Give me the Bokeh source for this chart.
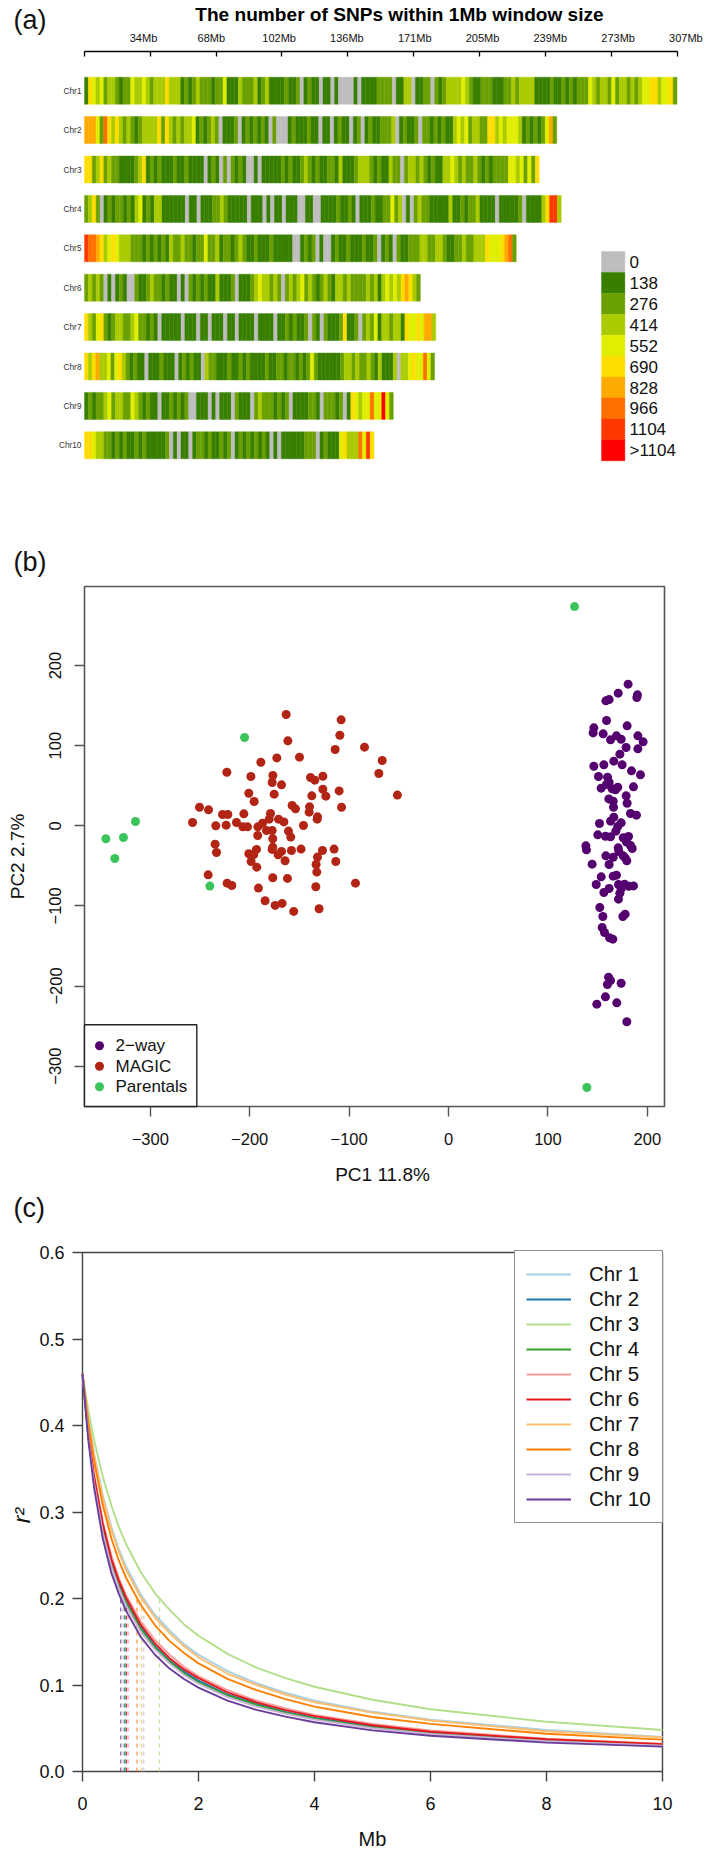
from bokeh.plotting import figure
from bokeh.layouts import column
from bokeh.models import Label, Legend, LegendItem, FixedTicker, Range1d, LinearAxis
from bokeh.embed import file_html
from bokeh.resources import INLINE

FONT = "Liberation Sans"

# ---------- panel (a) data: SNP density class per 2 Mb cell
chrom_names = ["Chr1", "Chr2", "Chr3", "Chr4", "Chr5", "Chr6", "Chr7", "Chr8", "Chr9", "Chr10"]
chrom_mb = [307, 244.7, 235.6, 247, 223.7, 174, 182, 181.4, 160, 150]
chr1_cells = ("1543423321224334323335333121232221224111322231231111211201211011010000101111222"
              "2011330112202123333432112221112232333311112112121222432332423323234455" "34452")
chr2_cells = ("6664275353232123333525323233412123201112012121210200012111211011012110120"
              "121122230121120221212113434233225534344431212124" "62")
chr3_cells = ("5523523221111235121211121121111012102021210010111112121123212112213111233321211"
              "32202332321211334323223212122224434242" "5")
chr4_cells = ("235201212212134121331111110110111223211111011101011011100110011112112101112112"
              "242301023221111131121223111101111120111135883")
chr5_cells = ("8776534543332221212121322322122422312212321121112111110012120100121121112112012"
              "102112223322332112232233354445672")
chr6_cells = ("232320101210021123221211010212121131112011123433"
              "232023234232123213323222232313434356532")
chr7_cells = ("532452123322342212101111101110110111011011110111"
              "1011212112021021112511202324133233154454663")
chr8_cells = ("535633424532121101112111012121103221112112121111"
              "2112212212124211111123323223213111303345447" "42")
chr9_cells = ("121223423322432121101121212001110101110211102322"
              "21212011112210222120154344744942")
chr10_cells = ("554332212121121211111201011012212112120121212121"
               "010111111222012111453337485")
chrom_cells = [chr1_cells, chr2_cells, chr3_cells, chr4_cells, chr5_cells,
               chr6_cells, chr7_cells, chr8_cells, chr9_cells, chr10_cells]
class_labels = ["0", "138", "276", "414", "552", "690", "828", "966", "1104", ">1104"]
class_colors = ["#BEBEBE", "#387F00", "#6AA000", "#AACB00", "#E1EE00",
                "#FFDD00", "#FFAA00", "#FF7000", "#FF3800", "#FF0000"]
ruler_ticks = [0, 34.1, 68.2, 102.3, 136.4, 170.5, 204.7, 238.8, 272.9, 307]
ruler_labels = ["34Mb", "68Mb", "102Mb", "136Mb", "171Mb", "205Mb", "239Mb", "273Mb", "307Mb"]

# ---------- panel (b) data
way2_x = [180.7,170.7,190.1,189.5,161.6,158.3,159,179.7,146.2,145.5,155.6,190.5,163,169,173.7,195.8,178.7,190.5,172.4,166.3,
          146.2,156.3,174.7,184.1,193.1,150.9,160,161.6,186.1,153.6,159,164.6,170.3,168,178.7,161.3,165.7,179.7,166,183.1,
          189.1,166.3,163,151.9,173.7,170.3,168.3,150.2,157.9,163,175.7,181.1,179.1,183.1,184.8,138.2,138.8,170.7,171.4,158.3,
          165.7,175.7,177.7,179.4,161.6,144.5,153.6,165.7,169,148.6,171,177.1,173.7,181.4,186.1,161.6,156.3,172.4,171,152.2,
          155.3,177.7,175.4,154.6,156.9,162,165.3,161,163,159.9,173.7,157.9,149.2,169.3,179.4]
way2_y = [176.8,165.6,163.5,160.1,157.6,156,131.4,124.8,122.3,116,114.8,112.3,107.3,112.3,108.1,104.8,97.7,96.1,89.4,80.7,
          74.4,76.1,76.1,68.6,63.6,61.5,60.7,54.4,48.6,47,51.5,46.2,48.2,44.9,37.4,33.6,30.7,28.2,23.2,15.3,
          13.3,10.8,5.8,2.9,3.7,-0.9,-6.7,-11.3,-13,-13.8,-15,-13.4,-20.4,-24.6,-28.3,-25,-30,-27.5,-32.1,-37.5,
          -39.2,-37.5,-40,-43.7,-48.3,-47.9,-63.7,-62.9,-61.6,-73.3,-73.3,-72.9,-78.7,-75.4,-75,-78.3,-83.3,-84.1,-91.6,-102,
          -113.2,-110.3,-113.2,-127,-133.2,-139.9,-141.5,-189,-193.1,-198.1,-196.5,-213.5,-222.7,-221,-244.7]
magic_x = [-163.3,-108,-109.3,-161.6,-84.5,-114,-172.7,-149.9,-66.7,-188.8,-223,-70.1,-198.8,-176.7,-138.8,-126.4,-134.5,-177.4,-168,-126.4,
           -110,-200.9,-175.4,-137.5,-123.4,-195.5,-157.3,-153.9,-139.8,-107.6,-250.5,-241.4,-140.2,-227.3,-222,-205.9,-179.1,-131.8,-132.1,-180.4,
           -171,-165.6,-257.5,-213.3,-234.1,-223.7,-145.9,-187.1,-206.9,-202.2,-191.8,-51.4,-161,-158.7,-177.4,-183.1,-176.8,-191.9,-234.8,-233.4,
           -193.2,-176.8,-177.4,-168,-171.4,-158,-148.3,-126.8,-115.1,-131.8,-133.2,-113.4,-200.9,-195.9,-198.6,-192.9,-164.4,-132.5,-241.8,-176.8,
           -162,-222.7,-218,-191.2,-133.5,-93.6,-184.5,-174.4,-167.4,-130.2,-155.7]
magic_y = [138.9,132.3,113.1,106.1,98.2,95.2,84.8,85.7,81.5,79.4,66.9,65.3,61.5,62.8,60.3,61.9,57,54,51.1,45.7,
           43.6,40.7,39.5,37.4,37,30.3,25.3,21.2,23.7,23.2,23.2,19.9,17,14.1,14.1,14.9,15.3,11.2,8.3,8.3,
           8.3,4.9,4.1,4.1,0,0.8,0.4,3.3,-1.3,-1.3,-1.3,38.3,-6.6,-14.1,-5.8,-5.8,-16.2,-12.1,-22.9,-33.3,
           -29.5,-26.6,-29.5,-32,-36.2,-30.8,-29.1,-30.8,-29.1,-39.1,-48.3,-44.5,-34.9,-35.8,-44.5,-51.6,-43.7,-57.8,-61.2,-64.9,
           -65.7,-71.6,-74.5,-77.8,-76.1,-71.6,-93.6,-99.4,-96.9,-103.6,-106.9]
parent_x = [-314.9, -344.7, -327, -335.7, -240.1, -205.2, 126.8, 139.2]
parent_y = [5.4, -16.2, -14.6, -40.8, -75.3, 110.2, 273.7, -326.7]
pc_xticks = [-300, -200, -100, 0, 100, 200]
pc_yticks = [-300, -200, -100, 0, 100, 200]
group_names = ["2\u2212way", "MAGIC", "Parentals"]
group_colors = ["#54006F", "#B22414", "#3CC45C"]

# ---------- panel (c) data: r2
mb = [0, 0.1, 0.2, 0.35, 0.5, 0.625, 0.75, 1, 1.25, 1.5, 1.75, 2, 2.5, 3, 3.5, 4, 5, 6, 8, 10]
r2_chr1 = [.46,.409,.367,.319,.282,.257,.237,.205,.181,.163,.147,.135,.116,.102,.091,.082,.069,.060,.048,.040]
r2_chr2 = [.46,.389,.338,.282,.241,.217,.197,.167,.145,.128,.1155,.105,.089,.078,.069,.062,.052,.045,.0363,.0308]
r2_chr3 = [.46,.418,.383,.341,.307,.283,.263,.231,.206,.187,.170,.157,.136,.120,.108,.098,.083,.072,.0575,.048]
r2_chr4 = [.46,.388,.336,.279,.239,.2145,.195,.165,.143,.127,.1135,.103,.088,.077,.068,.061,.051,.044,.0357,.0303]
r2_chr5 = [.46,.393,.344,.289,.249,.224,.204,.174,.152,.135,.121,.110,.094,.082,.073,.0655,.055,.0475,.038,.032]
r2_chr6 = [.46,.391,.341,.286,.245,.221,.201,.170,.148,.131,.118,.108,.0915,.080,.071,.064,.0535,.046,.0373,.0316]
r2_chr7 = [.46,.407,.365,.316,.279,.254,.233,.202,.178,.160,.1447,.132,.113,.100,.089,.080,.068,.059,.0465,.0395]
r2_chr8 = [.46,.403,.359,.308,.269,.244,.224,.193,.169,.151,.137,.125,.107,.094,.0836,.075,.063,.055,.0436,.0369]
r2_chr9 = [.46,.387,.333,.276,.2365,.212,.192,.162,.141,.125,.1117,.1015,.086,.075,.0667,.060,.050,.0434,.035,.0297]
r2_chr10 = [.46,.383,.328,.269,.229,.2056,.186,.156,.135,.119,.107,.097,.082,.0713,.0634,.057,.0476,.0414,.0334,.0287]
r2_series = [r2_chr1, r2_chr2, r2_chr3, r2_chr4, r2_chr5, r2_chr6, r2_chr7, r2_chr8, r2_chr9, r2_chr10]
half_decay_mb = [1.057, 0.735, 1.33, 0.72, 0.787, 0.76, 1.02, 0.94, 0.70, 0.66]
half_decay_r2 = 0.2
ld_names = ["Chr 1", "Chr 2", "Chr 3", "Chr 4", "Chr 5", "Chr 6", "Chr 7", "Chr 8", "Chr 9", "Chr 10"]
ld_colors = ["#A6CEE3", "#1F78B4", "#B2DF8A", "#33A02C", "#FB9A99",
             "#E31A1C", "#FDBF6F", "#FF7F00", "#CAB2D6", "#6A3D9A"]
ld_xticks = [0, 2, 4, 6, 8, 10]
ld_yticks = [0, 0.1, 0.2, 0.3, 0.4, 0.5, 0.6]

W = 709
TXT = "#111111"


def panel(h, xr, yr):
    p = figure(width=W, height=h, output_backend="svg", toolbar_location=None,
               x_range=Range1d(*xr), y_range=Range1d(*yr), x_axis_location=None, y_axis_location=None,
               min_border=0, min_border_left=0, min_border_right=0, min_border_top=0, min_border_bottom=0)
    p.grid.visible = False
    p.background_fill_color = "white"
    p.border_fill_color = "white"
    p.outline_line_color = None
    return p


def axis(p, side, loc, ticks, bounds, size, color="#444444", standoff=10, overrides=None):
    ax = LinearAxis(fixed_location=loc, bounds=bounds, ticker=FixedTicker(ticks=ticks))
    ax.major_label_text_font = FONT
    ax.major_label_text_font_size = size
    ax.major_label_text_color = TXT
    ax.axis_line_color = None
    ax.major_tick_line_color = color
    ax.major_tick_line_width = 1.4
    ax.major_tick_in = 0
    ax.major_tick_out = 10
    ax.minor_tick_line_color = None
    ax.major_label_standoff = standoff
    if overrides:
        ax.major_label_overrides = overrides
    p.add_layout(ax, side)
    return ax


def text(p, x, y, s, size, align="center", angle=0, style="normal", color=TXT):
    p.add_layout(Label(x=x, y=y, text=s, text_align=align, text_baseline="middle", angle=angle,
                       text_font=FONT, text_font_size=size, text_font_style=style, text_color=color))


# ---------- panel (a): page y 0..480
A_H = 480
A_LEFT, A_RIGHT = 84, 676.5
K = (A_RIGHT - A_LEFT) / 307
ROW0, PITCH, ROW_H = 90.2, 39.4, 27 / 39.4
ax_ = lambda px: (px - A_LEFT) / K
ay_ = lambda py: (py - ROW0) / PITCH

a = panel(A_H, (ax_(0), ax_(W)), (ay_(A_H), ay_(0)))
for i, (cells, length) in enumerate(zip(chrom_cells, chrom_mb)):
    w = length / len(cells)
    cols = [class_colors[int(c)] for c in cells]
    a.quad(left=[j * w for j in range(len(cells))], right=[(j + 1) * w for j in range(len(cells))],
           top=[i - ROW_H / 2] * len(cells), bottom=[i + ROW_H / 2] * len(cells),
           fill_color=cols, line_color=cols, line_width=0.4)

xa = axis(a, "above", ay_(50.7), ruler_ticks, (0, 307), "1px", "black", overrides={t: "" for t in ruler_ticks})
xa.axis_line_color = "black"
xa.axis_line_width = 1.3
xa.major_tick_line_width = 1.3
xa.major_tick_in = 5
xa.major_tick_out = 0
ya = axis(a, "left", 0, list(range(10)), (0, 9), "8.3px", None, standoff=3,
          overrides={i: n for i, n in enumerate(chrom_names)})
ya.major_label_text_color = "#333333"
ya.major_tick_out = 0

for i, t in enumerate(ruler_labels):
    text(a, ax_(143 + 67.8 * i), ay_(37), t, "11px")
text(a, ax_(399), ay_(14), "The number of SNPs within 1Mb window size", "19.1px", style="bold", color="black")
text(a, ax_(13), ay_(19), "(a)", "27px", align="left")
LEG_T, LEG_P = 251, 20.93
a.quad(left=[ax_(601)] * 10, right=[ax_(624.4)] * 10,
       top=[ay_(LEG_T + i * LEG_P) for i in range(10)], bottom=[ay_(LEG_T + (i + 1) * LEG_P) for i in range(10)],
       fill_color=class_colors, line_color=class_colors, line_width=0.4)
for i, t in enumerate(class_labels):
    text(a, ax_(629), ay_(LEG_T + (i + 0.5) * LEG_P), t, "17px", align="left")

# ---------- panel (b): page y 480..1188
B_Y0, B_H = 480, 708
bx = lambda px: (px - 448) / 0.994
by = lambda py: (825.3 - py) / 0.801
b = panel(B_H, (bx(0), bx(W)), (by(B_Y0 + B_H), by(B_Y0)))
b.quad(left=[bx(84)], right=[bx(664)], top=[by(586)], bottom=[by(1106)],
       fill_color=None, line_color="#555555", line_width=1.6)
b.scatter(way2_x, way2_y, size=9, color=group_colors[0], line_color=None)
b.scatter(magic_x, magic_y, size=9, color=group_colors[1], line_color=None)
b.scatter(parent_x, parent_y, size=9, color=group_colors[2], line_color=None)
fmt = lambda v: str(v).replace("-", "\u2212")
axis(b, "below", by(1106), pc_xticks, (-300, 200), "16.5px", "#555555", standoff=16,
     overrides={t: fmt(t) for t in pc_xticks})
yb = axis(b, "left", bx(84), pc_yticks, (-300, 200), "16.5px", "#555555", standoff=13,
          overrides={t: fmt(t) for t in pc_yticks})
yb.major_label_orientation = "vertical"
# legend box
b.quad(left=[bx(84)], right=[bx(196.3)], top=[by(1024.3)], bottom=[by(1106)],
       fill_color="white", line_color="#222222", line_width=1.4)
for py, name, col in zip([1045.3, 1065.7, 1086.3], group_names, group_colors):
    b.scatter([bx(99)], [by(py)], size=9, color=col, line_color=None)
    text(b, bx(115), by(py), name, "17px", align="left")
text(b, bx(382), by(1174), "PC1 11.8%", "19px")
text(b, bx(17), by(856), "PC2 2.7%", "19px", angle=1.5708)
text(b, bx(13), by(561), "(b)", "27px", align="left")

# ---------- panel (c): page y 1188..1852
C_Y0 = B_Y0 + B_H
C_H = 1852 - C_Y0
cx = lambda px: (px - 82) / 58
cy = lambda py: (1771 - py) / 865
c = panel(C_H, (cx(0), cx(W)), (cy(C_Y0 + C_H), cy(C_Y0)))
c.quad(left=[0], right=[10], top=[0.6], bottom=[0], fill_color=None, line_color="#444444", line_width=1.4)
for xd, col in zip(half_decay_mb, ld_colors):
    c.line([xd, xd], [0, half_decay_r2], line_color=col, line_dash="4 4", line_width=1.0)
items = []
for name, ys, col in zip(ld_names, r2_series, ld_colors):
    r = c.line(mb, ys, line_color=col, line_width=1.9)
    items.append(LegendItem(label=name, renderers=[r]))
leg_c = Legend(items=items, location=(514, 1852 - 1523), margin=0, padding=11, spacing=1, glyph_width=45, glyph_height=24,
               label_height=24, label_standoff=18, label_text_font=FONT, label_text_font_size="20.5px",
               label_text_color=TXT, border_line_color="#222222", border_line_width=1.4,
               background_fill_alpha=1)
c.add_layout(leg_c)
axis(c, "below", 0, ld_xticks, (0, 10), "18px", standoff=15)
axis(c, "left", 0, ld_yticks, (0, 0.6), "18px", standoff=8, overrides={t: "%.1f" % t for t in ld_yticks})
text(c, cx(372), cy(1838), "Mb", "20px")
text(c, cx(21), cy(1515), "r\u00b2", "23px", angle=1.5708, style="italic")
text(c, cx(13), cy(1207), "(c)", "27px", align="left")

page = column(a, b, c, spacing=0)
open("out.html", "w").write(file_html(page, INLINE))
